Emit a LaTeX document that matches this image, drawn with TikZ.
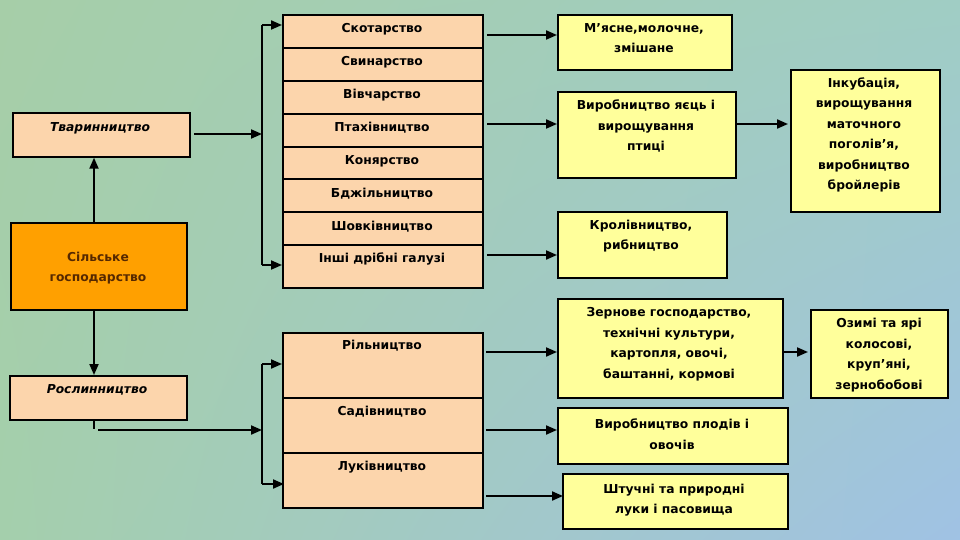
\documentclass[tikz,border=0pt]{standalone}
\usepackage{fontspec}
\setmainfont{DejaVu Sans}
\usetikzlibrary{arrows.meta,shadings}
\definecolor{peach}{RGB}{252,213,172}
\definecolor{orng}{RGB}{255,160,0}
\definecolor{yel}{RGB}{255,255,155}
\definecolor{bgul}{RGB}{166,206,168}
\definecolor{bgur}{RGB}{160,205,196}
\definecolor{bgll}{RGB}{164,207,172}
\definecolor{bglr}{RGB}{160,194,228}
\definecolor{brn}{RGB}{85,40,0}
\tikzset{
  pbox/.style={draw=black, line width=1.7pt, fill=peach, inner sep=0pt, anchor=north west},
  obox/.style={draw=black, line width=1.7pt, fill=orng, inner sep=0pt, anchor=north west},
  ybox/.style={draw=black, line width=2.2pt, fill=yel, inner sep=0pt, anchor=north west},
  lbl/.style={font=\fontsize{12.3}{20.5}\selectfont\bfseries, align=center, inner sep=0pt},
  ilbl/.style={font=\fontsize{12.3}{20.5}\selectfont\bfseries\itshape, align=center, inner sep=0pt},
  arr/.style={line width=2pt, -{Triangle[length=11pt,width=9pt]}},
  ln/.style={line width=2pt},
}
\begin{document}
\begin{tikzpicture}[x=1pt,y=-1pt]
\useasboundingbox (0,0) rectangle (960,540);
\shade[upper left=bgul, upper right=bgur, lower left=bgll, lower right=bglr] (0,0) rectangle (960,540);

% left column
\node[pbox, minimum width=177pt, minimum height=44pt] (tvar) at (12,112) {};
\node[ilbl] (ttvar) at (100,128) {Тваринництво};
\node[obox, minimum width=176pt, minimum height=87pt] (sg) at (10,222) {};
\node[lbl, text=brn] (tsg) at (98,268) {Сільське\\господарство};
\node[pbox, minimum width=177pt, minimum height=44pt] (rosl) at (9,375) {};
\node[ilbl] (trosl) at (97,390) {Рослинництво};

% animal stack
\node[pbox, minimum width=200pt, minimum height=33pt] (r1) at (282,14) {};
\node[pbox, minimum width=200pt, minimum height=33pt] (r2) at (282,47) {};
\node[pbox, minimum width=200pt, minimum height=33pt] (r3) at (282,80) {};
\node[pbox, minimum width=200pt, minimum height=33pt] (r4) at (282,113) {};
\node[pbox, minimum width=200pt, minimum height=32pt] (r5) at (282,146) {};
\node[pbox, minimum width=200pt, minimum height=33pt] (r6) at (282,178) {};
\node[pbox, minimum width=200pt, minimum height=33pt] (r7) at (282,211) {};
\node[pbox, minimum width=200pt, minimum height=43pt] (r8) at (282,244) {};
\node[lbl] (t1) at (382,29) {Скотарство};
\node[lbl] (t2) at (382,62) {Свинарство};
\node[lbl] (t3) at (382,95) {Вівчарство};
\node[lbl] (t4) at (382,128) {Птахівництво};
\node[lbl] (t5) at (382,161) {Конярство};
\node[lbl] (t6) at (382,194) {Бджільництво};
\node[lbl] (t7) at (382,227) {Шовківництво};
\node[lbl] (t8) at (382,259) {Інші дрібні галузі};

% plant stack
\node[pbox, minimum width=200pt, minimum height=65pt] (p1) at (282,332) {};
\node[pbox, minimum width=200pt, minimum height=55pt] (p2) at (282,397) {};
\node[pbox, minimum width=200pt, minimum height=55pt] (p3) at (282,452) {};
\node[lbl] (tp1) at (382,346) {Рільництво};
\node[lbl] (tp2) at (382,412) {Садівництво};
\node[lbl] (tp3) at (382,467) {Луківництво};

% yellow boxes
\node[ybox, minimum width=174pt, minimum height=55pt] (my) at (557,14) {};
\node[lbl] (tmy) at (644,38) {М’ясне,молочне,\\змішане};
\node[ybox, minimum width=178pt, minimum height=86pt] (vy) at (557,91) {};
\node[lbl] (tvy) at (646,126) {Виробництво яєць і\\вирощування\\птиці};
\node[ybox, minimum width=149pt, minimum height=142pt] (ink) at (790,69) {};
\node[lbl] (tink) at (864,135) {Інкубація,\\вирощування\\маточного\\поголів’я,\\виробництво\\бройлерів};
\node[ybox, minimum width=169pt, minimum height=66pt] (kr) at (557,211) {};
\node[lbl] (tkr) at (641,236) {Кролівництво,\\рибництво};
\node[ybox, minimum width=225pt, minimum height=99pt] (zer) at (557,298) {};
\node[lbl] (tzer) at (669,344) {Зернове господарство,\\технічні культури,\\картопля, овочі,\\баштанні, кормові};
\node[ybox, minimum width=137pt, minimum height=88pt] (oz) at (810,309) {};
\node[lbl] (toz) at (879,355) {Озимі та ярі\\колосові,\\круп’яні,\\зернобобові};
\node[ybox, minimum width=230pt, minimum height=56pt] (pl) at (557,407) {};
\node[lbl] (tpl) at (672,434) {Виробництво плодів і\\овочів};
\node[ybox, minimum width=225pt, minimum height=55pt] (sht) at (562,473) {};
\node[lbl] (tsht) at (674,500) {Штучні та природні\\луки і пасовища};

% coordinates
\coordinate (cx) at (94,0);
\coordinate (b1t) at (262,25);
\coordinate (b1b) at (262,265);
\coordinate (b1m) at (262,134);
\coordinate (b2t) at (262,364);
\coordinate (b2b) at (262,484);
\coordinate (b2m) at (262,430);
\coordinate (rt) at (94,429);
\coordinate (rs) at (98,430);
\coordinate (ts) at (194,134);
\coordinate (s1) at (487,35);
\coordinate (s2) at (487,124);
\coordinate (s3) at (735,124);
\coordinate (s4) at (487,255);
\coordinate (s5) at (486,352);
\coordinate (s6) at (782,352);
\coordinate (s7) at (486,430);
\coordinate (s8) at (486,496);

% left connectors
\draw[arr] (sg.north -| cx) -- (tvar.south -| cx);
\draw[arr] (sg.south -| cx) -- (rosl.north -| cx);
\draw[arr] (ts) -- (b1m);
\draw[ln] (b1t) -- (b1b);
\draw[arr] (b1t) -- (b1t -| r1.west);
\draw[arr] (b1b) -- (b1b -| r8.west);
\draw[ln] (rosl.south -| cx) -- (rt);
\draw[arr] (rs) -- (b2m);
\draw[ln] (b2t) -- (b2b);
\draw[arr] (b2t) -- (b2t -| p1.west);
\draw[arr] (b2b) -- ([xshift=2pt]b2b -| p3.west);

% right connectors
\draw[arr] (s1) -- (s1 -| my.west);
\draw[arr] (s2) -- (s2 -| vy.west);
\draw[arr] (s3) -- ([xshift=-2pt]s3 -| ink.west);
\draw[arr] (s4) -- (s4 -| kr.west);
\draw[arr] (s5) -- (s5 -| zer.west);
\draw[arr] (s6) -- ([xshift=-2pt]s6 -| oz.west);
\draw[arr] (s7) -- (s7 -| pl.west);
\draw[arr] (s8) -- ([xshift=1pt]s8 -| sht.west);
\end{tikzpicture}
\end{document}
